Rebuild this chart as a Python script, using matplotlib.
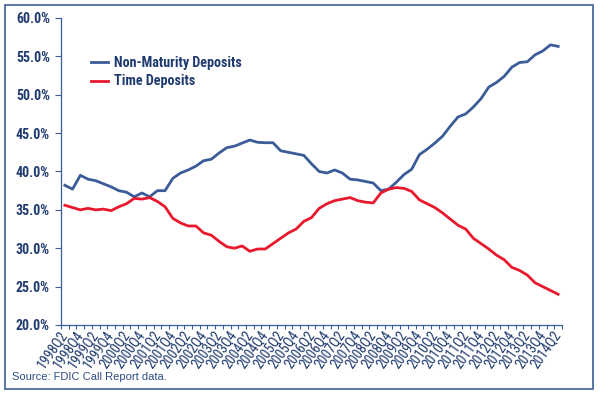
import matplotlib
matplotlib.use("Agg")
import matplotlib.pyplot as plt
from matplotlib import font_manager
from matplotlib.patches import Rectangle
from matplotlib.ticker import FuncFormatter, FixedLocator

# quarterly, 1998Q2 .. 2014Q2
quarters = []
for yr in range(1998, 2015):
    for q in range(1, 5):
        if (yr == 1998 and q < 2) or (yr == 2014 and q > 2):
            continue
        quarters.append(f"{yr}Q{q}")

non_maturity = [38.2, 37.7, 39.5, 39.0, 38.8, 38.4, 38.0, 37.5, 37.3, 36.7,
                37.2, 36.7, 37.5, 37.5, 39.1, 39.8, 40.2, 40.7, 41.4, 41.6,
                42.4, 43.1, 43.3, 43.7, 44.1, 43.8, 43.75, 43.75, 42.7, 42.5,
                42.3, 42.1, 41.0, 40.0, 39.8, 40.2, 39.8, 39.0, 38.9, 38.7,
                38.5, 37.5, 37.7, 38.6, 39.6, 40.3, 42.2, 42.9, 43.7, 44.6,
                45.9, 47.1, 47.5, 48.4, 49.5, 51.0, 51.6, 52.4, 53.6, 54.2,
                54.3, 55.2, 55.7, 56.5, 56.3]

time_dep = [35.6, 35.3, 35.0, 35.2, 35.0, 35.1, 34.9, 35.4, 35.8, 36.5,
            36.4, 36.6, 36.1, 35.4, 33.9, 33.3, 32.9, 32.9, 32.0, 31.7,
            30.9, 30.2, 30.0, 30.3, 29.6, 29.9, 29.9, 30.6, 31.3, 32.0,
            32.5, 33.5, 34.0, 35.2, 35.8, 36.2, 36.4, 36.6, 36.2, 36.0,
            35.9, 37.2, 37.7, 37.9, 37.8, 37.4, 36.3, 35.8, 35.3, 34.6,
            33.8, 33.0, 32.5, 31.3, 30.6, 29.9, 29.1, 28.5, 27.5, 27.1,
            26.5, 25.5, 25.0, 24.5, 24.0]

tick_labels = [q for q in quarters if q.endswith("Q2") or q.endswith("Q4")]

navy = "#1F3A70"
blue = "#3C5C99"
red = "#E8192C"

# use a narrow face if one is around, otherwise plain Liberation Sans
installed = {f.name for f in font_manager.fontManager.ttflist}
narrow = [n for n in ["Liberation Sans Narrow", "Roboto Condensed"] if n in installed]
font_list = narrow + ["Liberation Sans", "DejaVu Sans"]
is_narrow = bool(narrow)
plt.rcParams["font.family"] = font_list

fig = plt.figure(figsize=(6.0, 3.99), dpi=100)
ax = fig.add_axes([0.1017, 0.1855, 0.835, 0.7694])

x = list(range(len(quarters)))
ax.plot(x, non_maturity, color=blue, lw=2.0, label="Non-Maturity Deposits",
        solid_joinstyle="round")
ax.plot(x, time_dep, color=red, lw=2.0, label="Time Deposits",
        solid_joinstyle="round")

ax.set_ylim(20, 60)
ax.set_xlim(-0.5, len(quarters) - 0.5)
ax.set_yticks(range(20, 61, 5))
ax.yaxis.set_major_formatter(FuncFormatter(lambda v, p: f"{v:.1f}%"))

label_pos = [i for i, q in enumerate(quarters) if q in tick_labels]
ax.set_xticks(label_pos)
ax.set_xticklabels(tick_labels, rotation=55, ha="right", va="center",
                   rotation_mode="anchor", fontsize=10 if is_narrow else 9.2,
                   color=navy)
ax.xaxis.set_minor_locator(FixedLocator([i - 0.5 for i in range(len(quarters) + 1)]))
ax.tick_params(axis="x", which="major", length=0, pad=5)
ax.tick_params(axis="x", which="minor", length=3, color=blue, width=0.8)
ax.tick_params(axis="y", length=4, color=blue, width=0.8, labelcolor=navy,
               labelsize=10 if is_narrow else 9, pad=4)
for lbl in ax.get_yticklabels():
    lbl.set_fontweight("bold")

for s in ["top", "right"]:
    ax.spines[s].set_visible(False)
ax.spines["left"].set_color(blue)
ax.spines["bottom"].set_color(blue)
ax.spines["left"].set_linewidth(0.9)
ax.spines["bottom"].set_linewidth(0.9)

leg = ax.legend(loc="upper left", bbox_to_anchor=(0.04, 0.91), frameon=False,
                handlelength=1.2, handletextpad=0.45, labelspacing=0.35,
                borderpad=0.2,
                prop={"family": font_list, "weight": "bold",
                      "size": 10.2 if is_narrow else 9})
for t in leg.get_texts():
    t.set_color(navy)

fig.text(12 / 600, 1 - 377 / 399, "Source: FDIC Call Report data.", fontsize=8,
         color="#2E4C85", ha="left", va="center", family=["Liberation Sans", "DejaVu Sans"])

border = Rectangle((5 / 600, 1 - 389 / 399), 588 / 600, 384 / 399,
                   transform=fig.transFigure, fill=False, edgecolor="#4A6A9E", lw=1.3)
fig.patches.append(border)

fig.savefig("out.png", dpi=100)
